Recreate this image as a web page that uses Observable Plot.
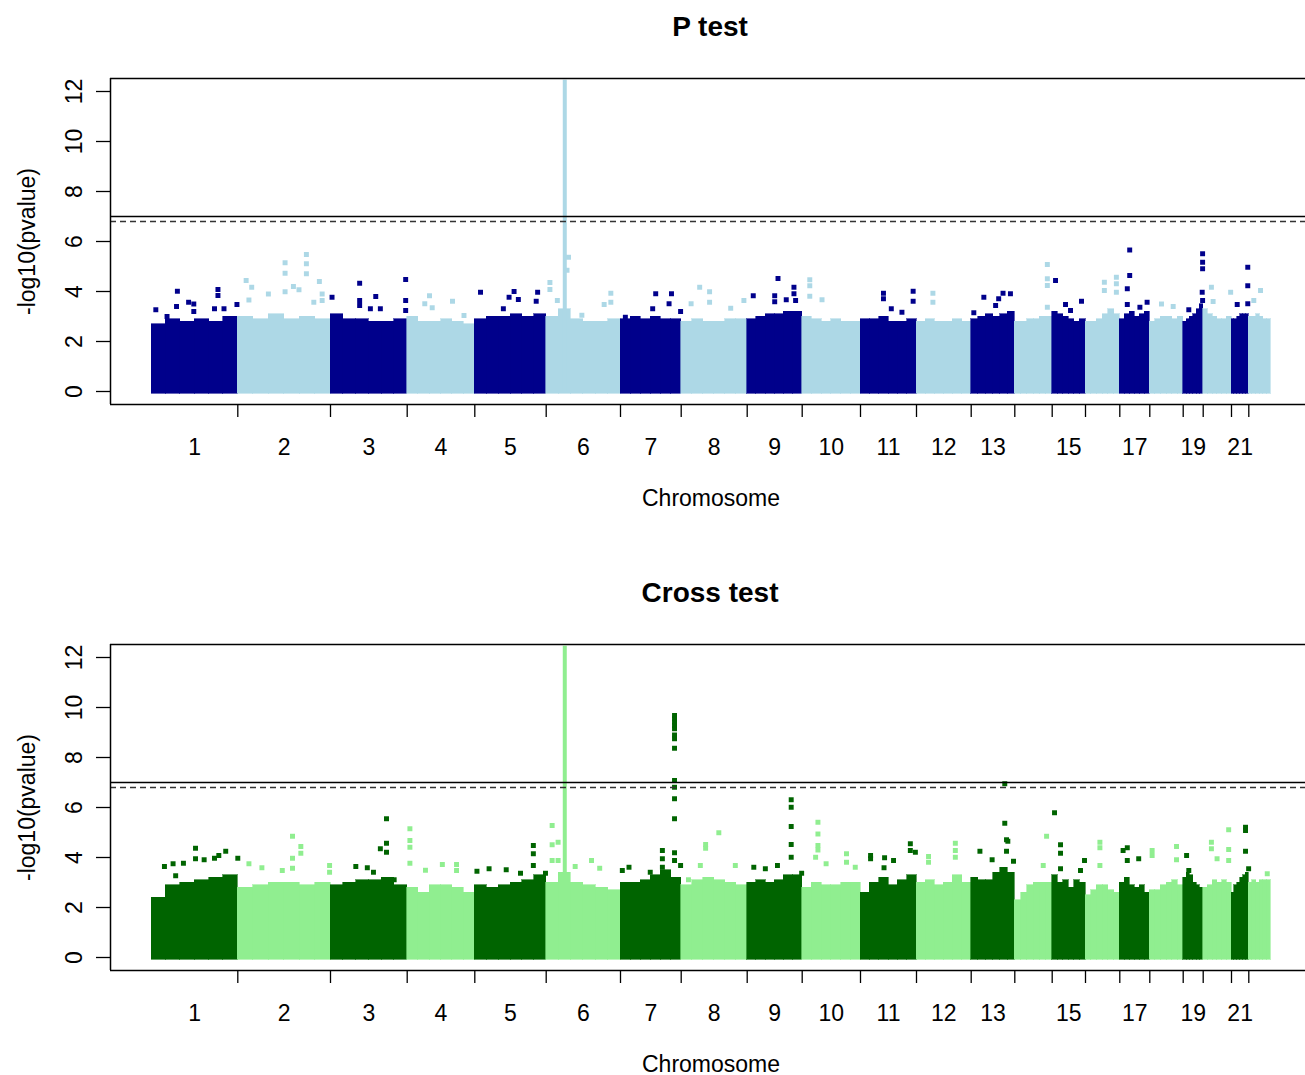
<!DOCTYPE html>
<html><head><meta charset="utf-8">
<script src="https://cdn.jsdelivr.net/npm/d3@7"></script>
<script src="https://cdn.jsdelivr.net/npm/@observablehq/plot@0.6"></script>
<style>
html,body{margin:0;padding:0;background:#fff;overflow:hidden;}
body{width:1305px;height:1075px;font-family:"Liberation Sans",Arial,sans-serif;}
.panel{position:relative;width:1305px;height:566px;}
.title{position:absolute;left:115px;width:1190px;top:0;height:54px;line-height:54px;text-align:center;font-weight:bold;font-size:28px;color:#000;}
.panel svg{position:absolute;left:0;top:50px;}
</style></head>
<body><div id="root"></div>
<script>
// ---- data ----
const chromosomes = ["1","2","3","4","5","6","7","8","9","10","11","12","13","14","15","16","17","18","19","20","21","22"];
const chrLen = [86.3, 92.7, 76.7, 67.6, 71.4, 74.3, 60.7, 66, 55, 58.3, 56, 54.7, 43.6, 37.4, 33.3, 34.3, 30, 33.4, 20, 28.3, 17.3, 21.7];
const shownLabels = ["1","2","3","4","5","6","7","8","9","10","11","12","13","15","17","19","21"];
const yTicks = [0, 2, 4, 6, 8, 10, 12];
const thresholdSolid = 7.0;
const thresholdDashed = 6.8;

// dense body: max height of the dense cloud in six equal bins per chromosome
const pProfile = [
[2.7,2.9,2.8,2.9,2.8,3.0],[3.0,2.9,3.1,2.9,3.0,2.9],[3.1,2.9,2.9,2.8,2.8,2.9],[3.0,2.8,2.8,2.9,2.8,2.7],
[2.9,3.0,3.0,3.1,3.0,3.1],[3.0,3.3,2.9,2.8,2.8,2.9],[2.9,3.0,2.9,3.0,2.9,2.9],[2.8,2.9,2.8,2.8,2.9,2.9],
[2.9,3.0,3.1,3.1,3.2,3.2],[3.0,2.9,2.8,2.9,2.8,2.8],[2.9,2.9,3.0,2.8,2.8,2.9],[2.8,2.9,2.8,2.8,2.9,2.8],
[2.9,3.0,3.1,3.0,3.1,3.2],[2.8,2.8,2.9,2.9,3.0,3.0],[3.2,3.1,3.0,2.9,2.8,2.9],[2.8,2.8,2.9,3.1,3.3,3.1],
[2.9,3.1,3.2,3.0,3.1,3.2],[2.8,2.9,3.0,3.0,2.9,3.0],[2.8,2.9,3.0,3.1,3.3,3.5],[3.3,3.1,3.0,2.9,2.9,3.0],
[2.9,2.9,3.0,3.1,3.1,3.1],[3.0,3.0,3.1,3.0,2.9,2.9]
];
const cProfile = [
[2.4,2.9,3.0,3.1,3.2,3.3],[2.8,2.9,3.0,3.0,2.9,3.0],[2.9,3.0,3.1,3.1,3.2,2.9],[2.8,2.6,2.9,2.9,2.8,2.6],
[2.9,2.8,2.9,3.0,3.1,3.3],[3.0,3.4,3.0,2.9,2.8,2.7],[3.0,3.0,3.1,3.3,3.5,3.2],[2.9,3.1,3.2,3.1,3.0,2.9],
[3.0,3.1,3.0,3.1,3.3,3.3],[2.8,3.0,2.9,2.9,3.0,3.0],[2.6,3.0,3.2,2.9,3.1,3.3],[3.0,3.1,2.9,3.0,3.3,3.0],
[3.2,3.1,3.1,3.4,3.6,3.4],[2.3,2.6,2.9,3.0,3.0,3.0],[3.3,3.0,3.1,2.8,3.1,3.0],[2.5,2.7,2.9,2.9,2.7,2.6],
[3.0,3.2,2.9,2.8,2.9,2.6],[2.7,2.7,2.9,3.0,3.1,2.9],[3.2,3.4,3.3,3.0,2.9,2.8],[2.8,2.9,3.1,3.0,3.1,3.0],
[2.6,2.9,3.0,3.2,3.3,3.4],[3.0,3.1,3.0,3.1,3.1,3.1]
];

// scattered SNPs above the dense body: [chromosome, fraction along chromosome, -log10(p)]
const pPoints = [
[1,.05,3.27],[1,.18,3.0],[1,.29,3.40],[1,.30,4.01],[1,.43,3.57],[1,.49,3.5],[1,.49,3.2],[1,.73,3.31],[1,.77,4.08],[1,.77,3.84],[1,.84,3.31],[1,.99,3.48],
[2,.09,4.44],[2,.12,3.66],[2,.15,4.17],[2,.33,3.9],[2,.51,5.15],[2,.51,4.73],[2,.51,3.99],[2,.60,4.2],[2,.66,4.07],[2,.74,5.48],[2,.74,5.11],[2,.74,4.71],[2,.82,3.57],[2,.88,4.4],[2,.91,3.9],[2,.91,3.64],
[3,.02,3.77],[3,.38,4.33],[3,.38,3.64],[3,.38,3.44],[3,.52,3.31],[3,.59,3.8],[3,.65,3.31],[3,.98,4.48],[3,.98,3.64],[3,.98,3.24],
[4,.26,3.51],[4,.33,3.83],[4,.37,3.35],[4,.67,3.61],[4,.84,3.04],
[5,.08,3.97],[5,.40,3.31],[5,.48,3.77],[5,.55,4.0],[5,.61,3.68],[5,.86,3.61],[5,.88,3.97],
[6,.05,4.36],[6,.05,4.08],[6,.15,3.64],[6,.30,5.37],[6,.28,4.85],[6,.48,3.05],[6,.78,3.48],[6,.87,3.93],[6,.87,3.57],
[7,.08,2.97],[7,.53,3.31],[7,.58,3.91],[7,.80,3.51],[7,.84,3.91],[7,.99,3.2],
[8,.15,3.51],[8,.28,4.17],[8,.43,3.99],[8,.43,3.57],[8,.75,3.33],[8,.95,3.64],
[9,.11,3.83],[9,.50,3.83],[9,.50,3.59],[9,.56,4.52],[9,.71,3.67],[9,.85,4.17],[9,.85,3.91],[9,.88,3.64],
[10,.13,4.47],[10,.13,4.23],[10,.13,3.81],[10,.34,3.67],
[11,.41,3.93],[11,.41,3.71],[11,.55,3.31],[11,.74,3.17],[11,.94,4.01],[11,.94,3.61],
[12,.30,3.93],[12,.30,3.57],
[13,.06,3.15],[13,.29,3.77],[13,.56,3.44],[13,.63,3.71],[13,.73,3.93],[13,.90,3.91],
[14,.87,5.08],[14,.87,4.51],[14,.87,4.24],[14,.87,3.37],
[15,.10,4.44],[15,.40,3.48],[15,.55,3.24],[15,.88,3.61],
[16,.55,4.37],[16,.55,4.04],[16,.90,4.57],[16,.90,4.31],[16,.90,3.97],
[17,.25,4.11],[17,.25,3.48],[17,.33,5.66],[17,.33,4.64],[17,.67,3.37],[17,.91,3.57],
[18,.35,3.5],[18,.70,3.4],
[19,.28,3.27],[19,.95,3.97],[19,.97,5.51],[19,.97,5.17],[19,.97,4.91],[19,.97,3.64],
[20,.29,4.17],[20,.35,3.6],[20,.97,3.97],
[21,.33,3.48],[21,.94,4.97],[21,.94,4.23],[21,.94,3.51],
[22,.23,3.64],[22,.54,4.04]
];
const cPoints = [
[1,.15,3.64],[1,.25,3.75],[1,.28,3.27],[1,.37,3.77],[1,.51,4.37],[1,.51,3.95],[1,.61,3.91],[1,.73,3.97],[1,.78,4.08],[1,.86,4.25],[1,1.0,3.97],
[2,.12,3.75],[2,.26,3.59],[2,.48,3.48],[2,.59,4.85],[2,.59,3.97],[2,.59,3.57],[2,.68,4.44],[2,.68,4.17],[2,.99,3.68],[2,.99,3.41],
[3,.33,3.64],[3,.48,3.59],[3,.56,3.41],[3,.65,4.35],[3,.73,5.55],[3,.73,4.57],[3,.73,4.21],[3,.83,3.11],
[4,.04,5.15],[4,.04,4.68],[4,.04,4.41],[4,.04,3.77],[4,.27,3.49],[4,.52,3.72],[4,.73,3.72],[4,.73,3.48],
[5,.03,3.45],[5,.20,3.55],[5,.44,3.51],[5,.64,3.37],[5,.82,4.48],[5,.82,4.15],[5,.82,3.68],[5,.99,3.37],
[6,.08,5.28],[6,.08,4.51],[6,.08,3.88],[6,.16,4.61],[6,.16,3.88],[6,.39,3.64],[6,.61,3.88],[6,.72,3.57],
[7,.03,3.48],[7,.14,3.61],[7,.49,3.41],[7,.69,4.28],[7,.69,3.95],[7,.69,3.61],
[7,.89,9.68],[7,.89,9.55],[7,.89,9.42],[7,.89,9.28],[7,.89,9.15],[7,.89,8.9],[7,.89,8.75],[7,.89,8.37],[7,.89,7.08],[7,.89,6.81],[7,.89,6.35],[7,.89,5.55],[7,.89,4.19],[7,.89,3.88],[7,.99,3.68],
[8,.11,3.11],[8,.29,3.68],[8,.37,4.52],[8,.37,4.37],[8,.57,4.99],[8,.82,3.68],
[9,.12,3.61],[9,.33,3.55],[9,.55,3.68],[9,.80,6.31],[9,.80,6.01],[9,.80,5.24],[9,.80,4.52],[9,.80,4.01],[9,.99,3.37],
[10,.23,4.01],[10,.27,5.41],[10,.27,4.94],[10,.27,4.48],[10,.27,4.3],[10,.41,3.75],[10,.76,4.15],[10,.76,3.81],[10,.91,3.61],
[11,.18,4.08],[11,.18,3.95],[11,.42,3.59],[11,.43,3.99],[11,.59,3.88],[11,.89,4.55],[11,.89,4.28],[11,.98,4.21],
[12,.22,4.04],[12,.22,3.81],[12,.71,4.57],[12,.71,4.28],[12,.71,4.01],
[13,.20,4.25],[13,.48,3.91],[13,.63,3.24],[13,.77,6.95],[13,.77,5.37],[13,.81,4.71],[13,.81,4.25],[13,.84,4.65],[13,.97,3.85],
[14,.76,3.68],[14,.85,4.85],
[15,.07,5.79],[15,.25,4.51],[15,.25,4.17],[15,.25,3.55],[15,.85,3.48],[15,.97,3.88],
[16,.42,4.61],[16,.42,4.39],[16,.42,3.68],
[17,.11,4.28],[17,.25,4.39],[17,.25,3.88],[17,.63,3.95],
[18,.07,4.28],[18,.07,4.08],[18,.80,4.44],[18,.80,3.91],
[19,.17,4.08],[19,.28,3.48],
[20,.29,4.61],[20,.29,4.35],[20,.49,3.95],[20,.90,5.11],[20,.90,4.32],[20,.90,3.88],
[21,.81,5.21],[21,.81,5.08],[21,.81,4.25],[21,.99,3.55],
[22,.85,3.35]
];
// dense vertical peak columns: [chromosome, fraction, top]
const pPeaks = [[6, .25, 12.45]];
const cPeaks = [[6, .25, 12.45]];

// ---- drawing ----
const starts = [0];
chrLen.forEach((l, i) => starts.push(starts[i] + l));
const total = starts[starts.length - 1];
const font = "Liberation Sans, Arial, sans-serif";
const fs = 23;

function panel(title, profile, points, peaks, dark, light) {
  const colorOf = c => (c % 2 === 1 ? dark : light);
  const bins = profile.flatMap((hs, i) => hs.map((h, j) => ({
    chr: i + 1, x1: starts[i] + j * chrLen[i] / hs.length, x2: starts[i] + (j + 1) * chrLen[i] / hs.length, h
  })));
  const pts = points.map(([c, f, y]) => ({chr: c, x: starts[c - 1] + f * chrLen[c - 1], y}));
  const pk = peaks.map(([c, f, top]) => ({chr: c, x: starts[c - 1] + f * chrLen[c - 1], top}));
  const yDom = [-0.52, 12.52];
  const xDom = [-41, 1154];
  const svg = Plot.plot({
    width: 1305, height: 516,
    marginTop: 28, marginBottom: 162, marginLeft: 110, marginRight: 0,
    x: {domain: xDom, axis: null},
    y: {domain: yDom, axis: null},
    style: {fontFamily: font, fontSize: fs + "px", color: "#000", background: "transparent", overflow: "visible"},
    marks: [
      Plot.rect(bins, {x1: "x1", x2: "x2", y1: 0, y2: "h", fill: d => colorOf(d.chr), stroke: d => colorOf(d.chr), strokeWidth: 0.6, insetBottom: -2, shapeRendering: "crispEdges"}),
      Plot.ruleX(pk, {x: "x", y1: 0, y2: "top", stroke: d => colorOf(d.chr), strokeWidth: 4}),
      Plot.dot(pts, {x: "x", y: "y", symbol: "square", r: 2.8, fill: d => colorOf(d.chr)}),
      Plot.ruleY([thresholdSolid], {stroke: "#000", strokeWidth: 1.5}),
      Plot.ruleY([thresholdDashed], {stroke: "#333", strokeWidth: 1.5, strokeDasharray: "6,4"}),
      Plot.ruleY(yDom, {stroke: "#000", strokeWidth: 1.5}),
      Plot.ruleX([xDom[0]], {stroke: "#000", strokeWidth: 1.5}),
      Plot.axisX(starts.slice(1, -1), {tickSize: 13, tickFormat: () => "", label: null, strokeWidth: 1.3}),
      Plot.axisY(yTicks, {tickSize: 14, tickFormat: () => "", label: null, strokeWidth: 1.3}),
      Plot.text(yTicks, {y: d => d, frameAnchor: "left", dx: -36, rotate: -90, textAnchor: "middle", lineAnchor: "middle", text: d => String(d), fontSize: fs, fill: "#000"}),
      Plot.text(shownLabels, {x: c => starts[+c - 1] + chrLen[+c - 1] / 2, frameAnchor: "bottom", dy: 43, lineAnchor: "middle", text: d => d, fontSize: fs, fill: "#000"}),
      Plot.text(["Chromosome"], {x: total / 2, frameAnchor: "bottom", dy: 94, lineAnchor: "middle", text: d => d, fontSize: fs, fill: "#000"}),
      Plot.text(["-log10(pvalue)"], {frameAnchor: "left", dx: -83, rotate: -90, textAnchor: "middle", lineAnchor: "middle", text: d => d, fontSize: fs, fill: "#000"})
    ]
  });
  const div = document.createElement("div");
  div.className = "panel";
  const t = document.createElement("div");
  t.className = "title";
  t.textContent = title;
  div.appendChild(t);
  div.appendChild(svg);
  document.getElementById("root").appendChild(div);
}

panel("P test", pProfile, pPoints, pPeaks, "#00008B", "#ADD8E6");
panel("Cross test", cProfile, cPoints, cPeaks, "#006400", "#90EE90");
</script>
</body></html>
